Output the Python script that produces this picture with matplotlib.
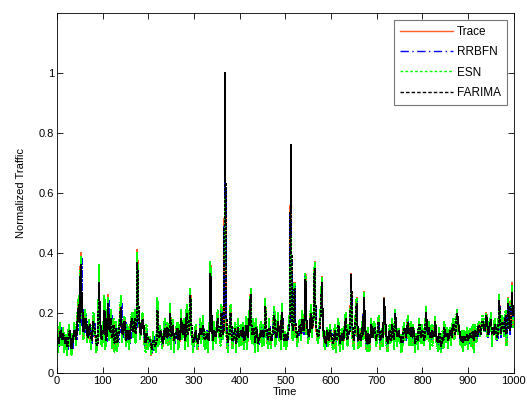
import matplotlib
matplotlib.use("Agg")
import matplotlib.pyplot as plt
import numpy as np

plt.rcParams["font.family"] = ["Liberation Sans", "DejaVu Sans"]

time = np.arange(0, 1000, 2)

trace = [
    13, 8, 9, 16, 15, 10, 11, 14, 8, 11, 12, 7, 10, 15, 14, 9, 7, 12, 11, 16, 13, 10, 17, 21, 25, 14, 40, 22, 19, 12, 14, 20, 18, 11, 12, 17, 16, 9, 11, 15, 19, 14, 13, 8, 9, 12, 35, 16, 12, 10,
    16, 11, 25, 9, 11, 18, 26, 12, 14, 20, 9, 13, 17, 8, 12, 16, 8, 12, 15, 19, 25, 11, 13, 17, 18, 12, 10, 15, 14, 9, 12, 18, 19, 13, 15, 20, 11, 16, 41, 20, 17, 12, 13, 18, 19, 14, 10, 8, 15, 11,
    9, 11, 12, 6, 7, 13, 10, 8, 8, 12, 24, 10, 11, 15, 13, 9, 9, 14, 17, 11, 12, 16, 10, 13, 22, 9, 14, 17, 8, 11, 12, 15, 16, 9, 10, 14, 20, 12, 13, 17, 9, 13, 22, 10, 15, 19, 28, 14, 12, 8,
    10, 13, 15, 9, 8, 12, 13, 17, 11, 14, 18, 10, 9, 13, 14, 8, 12, 16, 37, 15, 13, 9, 16, 12, 11, 17, 20, 13, 14, 10, 22, 15, 12, 18, 100, 16, 11, 8, 15, 12, 22, 14, 9, 11, 13, 16, 8, 12, 17, 10,
    12, 15, 10, 13, 16, 9, 13, 18, 9, 12, 20, 15, 28, 11, 14, 17, 11, 8, 17, 13, 8, 11, 12, 16, 10, 14, 15, 10, 24, 13, 12, 9, 17, 14, 9, 12, 13, 18, 21, 10, 11, 15, 19, 12, 14, 9, 22, 16, 12, 10,
    13, 9, 10, 14, 16, 20, 76, 15, 12, 18, 30, 13, 14, 10, 11, 16, 17, 12, 20, 15, 13, 19, 33, 14, 15, 11, 12, 17, 22, 13, 16, 20, 37, 18, 14, 12, 11, 15, 17, 24, 32, 13, 12, 9, 9, 13, 14, 10, 11, 15,
    13, 10, 9, 12, 15, 8, 11, 14, 17, 11, 8, 13, 14, 9, 12, 16, 19, 12, 10, 15, 13, 18, 33, 14, 11, 9, 15, 20, 25, 12, 9, 14, 13, 10, 16, 12, 27, 15, 11, 8, 14, 12, 8, 11, 17, 13, 12, 16, 15, 10,
    11, 14, 18, 12, 9, 13, 14, 10, 25, 16, 12, 9, 8, 12, 15, 11, 11, 17, 13, 9, 21, 14, 10, 13, 14, 11, 12, 8, 9, 14, 16, 12, 11, 15, 18, 10, 13, 16, 10, 13, 15, 11, 8, 12, 12, 9, 17, 14, 11, 15,
    14, 11, 10, 15, 22, 12, 13, 16, 9, 13, 15, 10, 12, 14, 18, 11, 10, 8, 14, 12, 7, 11, 13, 9, 16, 12, 11, 14, 9, 13, 14, 10, 12, 16, 17, 12, 13, 18, 21, 14, 15, 11, 10, 13, 8, 12, 13, 10, 11, 14,
    9, 12, 14, 10, 12, 15, 8, 13, 15, 11, 11, 16, 16, 13, 13, 18, 18, 15, 14, 17, 20, 13, 12, 16, 16, 19, 10, 14, 13, 17, 15, 12, 11, 15, 26, 14, 12, 18, 17, 13, 14, 20, 10, 15, 25, 17, 13, 19, 30, 16,
]
rrbfn = [
    12, 12, 9, 10, 15, 14, 10, 12, 13, 9, 11, 11, 8, 11, 14, 13, 9, 8, 12, 12, 15, 12, 11, 17, 22, 23, 16, 38, 21, 18, 13, 15, 19, 16, 12, 13, 16, 14, 10, 12, 17, 17, 13, 11, 10, 11, 32, 18, 13, 11,
    12, 15, 13, 23, 10, 12, 17, 24, 13, 14, 19, 10, 13, 16, 9, 12, 15, 9, 12, 15, 18, 23, 12, 13, 17, 17, 13, 11, 15, 13, 10, 13, 17, 18, 14, 16, 19, 12, 39, 22, 18, 13, 13, 17, 18, 15, 11, 9, 14, 12,
    12, 10, 11, 11, 7, 8, 12, 10, 9, 9, 22, 14, 11, 14, 13, 10, 9, 13, 16, 12, 12, 15, 11, 12, 21, 11, 13, 16, 10, 10, 12, 14, 15, 11, 10, 13, 19, 14, 13, 16, 11, 12, 21, 12, 14, 18, 27, 16, 12, 10,
    9, 11, 14, 11, 9, 11, 13, 16, 12, 13, 17, 12, 10, 12, 14, 10, 11, 15, 35, 18, 13, 10, 15, 13, 11, 16, 19, 15, 13, 11, 21, 17, 13, 17, 99, 22, 12, 9, 14, 13, 21, 16, 10, 11, 13, 15, 10, 11, 16, 12,
    11, 13, 14, 11, 14, 11, 12, 17, 11, 11, 19, 16, 27, 14, 13, 16, 12, 9, 16, 14, 9, 10, 12, 15, 11, 13, 15, 11, 23, 15, 12, 10, 16, 15, 10, 11, 13, 17, 20, 12, 11, 14, 18, 13, 13, 10, 21, 17, 13, 11,
    12, 11, 10, 13, 15, 19, 74, 22, 13, 17, 29, 16, 14, 11, 11, 15, 16, 13, 19, 16, 13, 18, 32, 17, 15, 12, 12, 16, 21, 15, 16, 19, 36, 21, 15, 13, 11, 14, 16, 23, 31, 16, 12, 10, 9, 12, 13, 11, 11, 14,
    14, 12, 10, 11, 14, 10, 11, 13, 16, 13, 9, 12, 14, 11, 12, 15, 18, 14, 11, 14, 13, 17, 30, 17, 12, 10, 14, 19, 24, 15, 10, 13, 13, 11, 15, 13, 26, 17, 12, 9, 13, 13, 9, 11, 16, 14, 12, 15, 15, 11,
    12, 13, 17, 14, 10, 12, 14, 11, 24, 18, 13, 10, 9, 11, 14, 12, 11, 16, 14, 10, 20, 16, 11, 12, 14, 12, 12, 9, 9, 13, 15, 13, 11, 14, 17, 12, 13, 15, 11, 12, 15, 12, 9, 11, 12, 10, 16, 15, 12, 14,
    13, 12, 11, 14, 21, 14, 13, 15, 11, 12, 14, 11, 12, 13, 17, 13, 11, 9, 13, 13, 8, 10, 12, 10, 15, 13, 11, 13, 10, 12, 14, 11, 12, 15, 16, 14, 13, 17, 20, 16, 15, 12, 10, 12, 9, 11, 12, 11, 11, 13,
    11, 10, 13, 12, 12, 14, 10, 12, 14, 12, 11, 15, 16, 14, 13, 17, 18, 16, 14, 16, 19, 15, 12, 15, 16, 18, 12, 13, 13, 16, 15, 13, 11, 14, 25, 16, 12, 17, 17, 14, 14, 19, 12, 14, 24, 19, 13, 18, 28, 18,
]
esn = [
    14, 7, 10, 17, 14, 9, 12, 15, 7, 10, 13, 6, 11, 16, 13, 8, 6, 13, 10, 17, 14, 9, 18, 22, 26, 13, 39, 23, 18, 11, 15, 21, 17, 10, 13, 18, 15, 8, 12, 16, 20, 13, 14, 7, 8, 13, 36, 15, 11, 9,
    17, 10, 26, 8, 12, 19, 25, 11, 15, 21, 8, 14, 18, 7, 13, 17, 7, 13, 16, 20, 26, 10, 14, 18, 19, 11, 9, 16, 15, 8, 13, 19, 20, 12, 16, 21, 10, 17, 40, 19, 18, 11, 14, 19, 20, 13, 9, 7, 16, 10,
    8, 12, 11, 6, 8, 14, 9, 8, 7, 13, 25, 9, 12, 16, 12, 8, 10, 15, 18, 10, 13, 17, 9, 14, 23, 8, 15, 18, 7, 12, 13, 16, 17, 8, 11, 15, 21, 11, 14, 18, 8, 14, 23, 9, 16, 20, 28, 13, 11, 7,
    11, 14, 16, 8, 9, 13, 12, 18, 10, 15, 19, 9, 8, 14, 13, 7, 13, 17, 37, 14, 12, 8, 17, 11, 10, 18, 21, 12, 15, 9, 23, 14, 11, 19, 58, 15, 10, 7, 16, 11, 23, 13, 8, 10, 14, 17, 7, 13, 18, 9,
    13, 16, 9, 14, 17, 8, 14, 19, 8, 13, 21, 14, 28, 10, 15, 18, 10, 7, 18, 12, 7, 12, 13, 17, 9, 15, 16, 9, 25, 12, 11, 8, 18, 13, 8, 13, 14, 19, 22, 9, 12, 16, 20, 11, 15, 8, 23, 15, 11, 9,
    14, 8, 11, 15, 17, 21, 45, 14, 11, 19, 30, 12, 15, 9, 12, 17, 18, 11, 21, 14, 14, 20, 33, 13, 16, 10, 13, 18, 23, 12, 17, 21, 37, 17, 15, 11, 10, 16, 18, 25, 32, 12, 13, 8, 10, 14, 15, 9, 12, 16,
    12, 9, 8, 13, 16, 7, 12, 15, 18, 10, 7, 14, 15, 8, 13, 17, 20, 11, 9, 16, 14, 19, 29, 13, 10, 8, 16, 21, 25, 11, 8, 15, 14, 9, 17, 11, 27, 14, 10, 7, 15, 11, 7, 12, 18, 12, 13, 17, 16, 9,
    10, 15, 19, 11, 8, 14, 15, 9, 23, 15, 11, 8, 7, 13, 16, 10, 12, 18, 12, 8, 21, 13, 9, 14, 15, 10, 13, 7, 8, 15, 17, 11, 12, 16, 19, 9, 14, 17, 9, 14, 16, 10, 7, 13, 13, 8, 18, 13, 10, 16,
    15, 10, 9, 16, 22, 11, 14, 17, 8, 14, 16, 9, 13, 15, 19, 10, 9, 7, 15, 11, 7, 12, 14, 8, 17, 11, 10, 15, 8, 14, 15, 9, 13, 17, 18, 11, 14, 19, 21, 13, 16, 10, 9, 14, 7, 13, 14, 9, 12, 15,
    8, 13, 15, 9, 13, 16, 7, 14, 16, 10, 12, 17, 17, 12, 14, 19, 19, 14, 15, 18, 20, 12, 13, 17, 17, 20, 9, 15, 14, 18, 16, 11, 12, 16, 26, 13, 13, 19, 18, 12, 15, 21, 9, 16, 25, 16, 14, 20, 29, 15,
]
farima = [
    13, 11, 10, 12, 14, 13, 11, 13, 11, 10, 12, 9, 9, 13, 14, 11, 8, 10, 12, 14, 14, 11, 15, 19, 23, 17, 36, 26, 20, 14, 14, 18, 18, 13, 12, 15, 16, 11, 11, 14, 17, 15, 13, 10, 9, 11, 30, 20, 14, 11,
    14, 13, 21, 13, 11, 16, 23, 15, 14, 18, 12, 13, 16, 10, 12, 15, 10, 12, 14, 18, 22, 14, 13, 16, 17, 14, 11, 14, 14, 11, 12, 16, 18, 14, 15, 18, 13, 15, 37, 24, 18, 14, 13, 16, 18, 15, 12, 10, 13, 12,
    11, 11, 11, 9, 8, 11, 11, 9, 9, 11, 21, 14, 12, 14, 13, 11, 10, 12, 15, 13, 12, 15, 12, 13, 20, 12, 13, 16, 11, 11, 12, 14, 15, 11, 11, 13, 18, 14, 13, 16, 11, 12, 20, 13, 14, 17, 26, 17, 13, 10,
    11, 12, 14, 11, 10, 11, 13, 15, 13, 13, 16, 12, 11, 12, 13, 11, 11, 14, 33, 20, 14, 11, 14, 13, 12, 15, 18, 15, 14, 12, 20, 17, 13, 16, 100, 25, 13, 10, 13, 13, 20, 16, 11, 11, 13, 15, 10, 12, 15, 12,
    12, 14, 13, 12, 15, 11, 12, 16, 12, 12, 18, 16, 26, 15, 13, 15, 13, 10, 15, 14, 10, 11, 12, 14, 12, 13, 14, 12, 22, 16, 13, 11, 15, 15, 11, 11, 13, 16, 19, 13, 12, 14, 17, 14, 13, 11, 20, 18, 13, 11,
    13, 11, 11, 13, 15, 18, 76, 24, 14, 16, 28, 17, 14, 12, 12, 15, 16, 13, 18, 16, 14, 18, 31, 18, 15, 13, 12, 16, 20, 15, 16, 19, 35, 22, 15, 13, 12, 14, 16, 22, 30, 17, 13, 11, 10, 12, 14, 11, 11, 14,
    13, 12, 10, 11, 14, 11, 11, 13, 16, 13, 10, 12, 13, 11, 12, 15, 18, 14, 11, 14, 13, 17, 33, 18, 13, 11, 14, 18, 23, 15, 11, 13, 13, 11, 15, 13, 25, 18, 12, 10, 13, 13, 10, 11, 16, 14, 12, 15, 15, 11,
    12, 13, 17, 14, 11, 12, 14, 12, 25, 19, 14, 11, 10, 11, 14, 13, 11, 16, 14, 11, 20, 17, 12, 12, 14, 12, 12, 10, 10, 13, 15, 14, 12, 14, 17, 13, 13, 15, 12, 12, 15, 13, 10, 11, 12, 11, 16, 16, 12, 14,
    14, 12, 11, 14, 20, 15, 13, 15, 12, 12, 14, 12, 12, 13, 17, 13, 11, 10, 13, 13, 9, 10, 12, 11, 15, 13, 12, 13, 11, 12, 14, 12, 12, 15, 16, 14, 13, 17, 20, 17, 15, 13, 11, 12, 10, 11, 12, 11, 11, 13,
    11, 11, 13, 12, 12, 14, 11, 12, 14, 13, 12, 15, 16, 14, 13, 17, 17, 16, 14, 16, 19, 16, 13, 15, 16, 18, 13, 13, 13, 16, 15, 13, 12, 14, 24, 17, 13, 17, 17, 14, 14, 19, 13, 14, 23, 19, 14, 18, 27, 19,
]

series = [
    ("Trace", trace, "#ff5a28", "-"),
    ("RRBFN", rrbfn, "#0000ff", (0, (6, 2.5, 1, 2.5))),
    ("ESN", esn, "#00ff00", (0, (2, 1.5))),
    ("FARIMA", farima, "#000000", (0, (2.5, 1.5))),
]

fig = plt.figure(figsize=(5.27, 4.08), dpi=100)
ax = fig.add_axes([0.108, 0.086, 0.867, 0.882])

for name, vals, color, ls in series:
    ax.plot(time, np.array(vals) / 100.0, color=color, linestyle=ls, lw=0.75,
            antialiased=False, label=name)

ax.set_xlim(0, 1000)
ax.set_ylim(0, 1.2)
ax.set_xticks(np.arange(0, 1001, 100))
ax.set_yticks([0, 0.2, 0.4, 0.6, 0.8, 1.0])
ax.set_yticklabels(["0", "0.2", "0.4", "0.6", "0.8", "1"])
ax.tick_params(direction="in", top=True, right=True, length=4, width=0.6, labelsize=8, pad=2)
for s in ax.spines.values():
    s.set_linewidth(0.6)
ax.set_xlabel("Time", fontsize=8, labelpad=1)
ax.set_ylabel("Normalized Traffic", fontsize=8, labelpad=9)

leg = ax.legend(loc="upper right", fontsize=8.5, frameon=True, fancybox=False,
                handlelength=4.5, handletextpad=0.3, borderpad=0.5, labelspacing=0.7,
                borderaxespad=0.6)
leg.get_frame().set_edgecolor("#555555")
leg.get_frame().set_linewidth(0.8)
for line in leg.get_lines():
    line.set_linewidth(1.0)
    line.set_antialiased(True)

fig.savefig("out.png", dpi=100)
